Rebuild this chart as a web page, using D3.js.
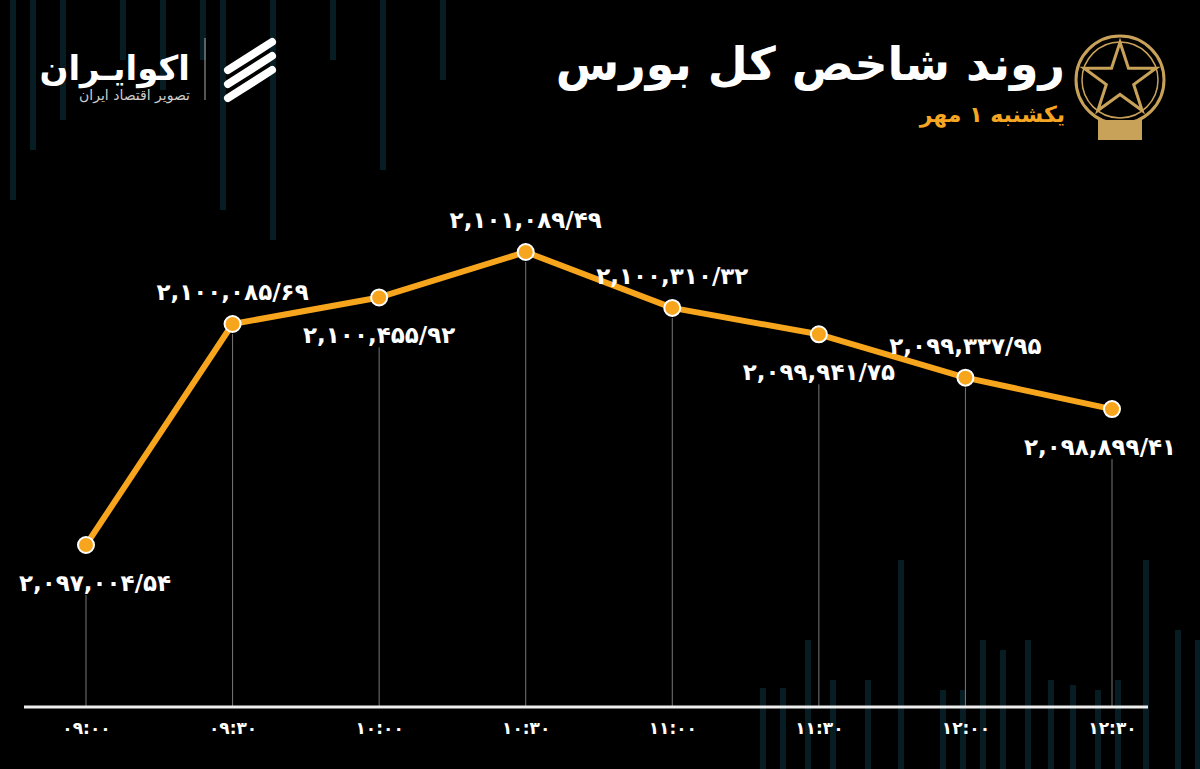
<!DOCTYPE html>
<html><head><meta charset="utf-8">
<script src="https://cdn.jsdelivr.net/npm/d3@7"></script>
<style>body{margin:0;background:#000;}svg{display:block;}text{font-family:"DejaVu Sans","Noto Sans",sans-serif;font-weight:bold;}</style>
</head><body>
<script>
const times = ["09:00","09:30","10:00","10:30","11:00","11:30","12:00","12:30"];
const values = [2097004.54, 2100085.69, 2100455.92, 2101089.49, 2100310.32, 2099941.75, 2099337.95, 2098899.41];
const labelPos = ["below","above","below","above","above","below","above","below"];
// decorative background bars [x, top]
const bgBars = [[10,0,200],[30,0,150],[60,0,120],[120,0,60],[160,0,90],[200,0,60],[220,0,210],[270,0,240],[330,0,60],[380,0,170],[440,0,80],[760,688,769],[780,688,769],[805,640,769],[830,680,769],[865,680,769],[898,560,769],[940,690,769],[960,690,769],[980,640,769],[1000,650,769],[1025,640,769],[1048,680,769],[1070,685,769],[1095,690,769],[1115,680,769],[1143,560,769],[1175,630,769],[1195,640,769]];

const W = 1200, H = 769;
const fa = s => s.replace(/\d/g, d => "۰۱۲۳۴۵۶۷۸۹"[d]);
const fmt = v => { const [i, f] = v.toFixed(2).split("."); return fa(d3.format(",")(+i) + "/" + f); };

const svg = d3.select("body").append("svg").attr("width", W).attr("height", H);
svg.append("rect").attr("width", W).attr("height", H).attr("fill", "#000");

svg.selectAll(".bg").data(bgBars).join("rect")
  .attr("x", d => d[0]).attr("y", d => d[1]).attr("width", 6).attr("height", d => d[2] - d[1])
  .attr("fill", "#0a2a33").attr("opacity", 0.7);

const x = d3.scalePoint().domain(times).range([86, 1112]);
const y = d3.scaleLinear().domain([values[0], values[3]]).range([545, 252]);
const axisY = 707;

// guide lines
svg.selectAll(".guide").data(times).join("line")
  .attr("x1", d => x(d)).attr("x2", d => x(d))
  .attr("y1", (d, i) => y(values[i]) + (labelPos[i] === "below" ? 50 : 10)).attr("y2", axisY)
  .attr("stroke", "#777").attr("stroke-width", 1);

svg.append("line").attr("x1", 24).attr("x2", 1148).attr("y1", axisY).attr("y2", axisY)
  .attr("stroke", "#eee").attr("stroke-width", 3);

const axis = d3.axisBottom(x).tickSize(0).tickFormat(fa);
const ga = svg.append("g").attr("transform", `translate(0,${axisY + 12})`).call(axis);
ga.select(".domain").remove();
ga.selectAll("text").attr("fill", "#fff").style("font-size", "17px").style("font-family", "DejaVu Sans").style("font-weight", "bold");

const pts = times.map((t, i) => [x(t), y(values[i])]);
svg.append("path").attr("d", d3.line()(pts)).attr("fill", "none")
  .attr("stroke", "#f7a51c").attr("stroke-width", 6).attr("stroke-linejoin", "round");
svg.selectAll(".pt").data(pts).join("circle")
  .attr("cx", d => d[0]).attr("cy", d => d[1]).attr("r", 8)
  .attr("fill", "#f7a51c").attr("stroke", "#fff").attr("stroke-width", 2);

svg.selectAll(".lbl").data(values).join("text")
  .attr("x", (d, i) => Math.min(Math.max(x(times[i]), 95), 1100))
  .attr("y", (d, i) => y(d) + (labelPos[i] === "below" ? 46 : -24))
  .attr("text-anchor", "middle").attr("fill", "#fff").style("font-size", "23px")
  .text(fmt);

// header
svg.append("text").attr("x", 1065).attr("y", 80).attr("text-anchor", "end")
  .attr("fill", "#fff").style("font-size", "46px").text("روند شاخص کل بورس");
svg.append("text").attr("x", 1065).attr("y", 122).attr("text-anchor", "end")
  .attr("fill", "#f5a623").style("font-size", "22px").text("یکشنبه ۱ مهر");
const em = svg.append("g").attr("transform", "translate(1120,80)");
em.append("circle").attr("r", 44).attr("fill", "none").attr("stroke", "#c9a25a").attr("stroke-width", 3);
em.append("circle").attr("r", 38).attr("fill", "none").attr("stroke", "#c9a25a").attr("stroke-width", 1.5);
em.append("path").attr("d", d3.symbol(d3.symbolStar, 1600)()).attr("fill", "none").attr("stroke", "#c9a25a").attr("stroke-width", 3);
em.append("rect").attr("x", -22).attr("y", 40).attr("width", 44).attr("height", 20).attr("fill", "#c9a25a");

svg.append("text").attr("x", 190).attr("y", 80).attr("text-anchor", "end")
  .attr("fill", "#fff").style("font-size", "34px").text("اکوایـران");
svg.append("text").attr("x", 190).attr("y", 100).attr("text-anchor", "end")
  .attr("fill", "#ccc").style("font-size", "14px").style("font-weight", "normal").text("تصویر اقتصاد ایران");
svg.append("line").attr("x1", 205).attr("x2", 205).attr("y1", 38).attr("y2", 100).attr("stroke", "#aaa");
const lg = svg.append("g").attr("transform", "translate(250,70)");
[-14, 0, 14].forEach(o => lg.append("line").attr("x1", -22).attr("y1", 14 + o).attr("x2", 22).attr("y2", -14 + o)
  .attr("stroke", "#fff").attr("stroke-width", 8).attr("stroke-linecap", "round"));
</script>
</body></html>
